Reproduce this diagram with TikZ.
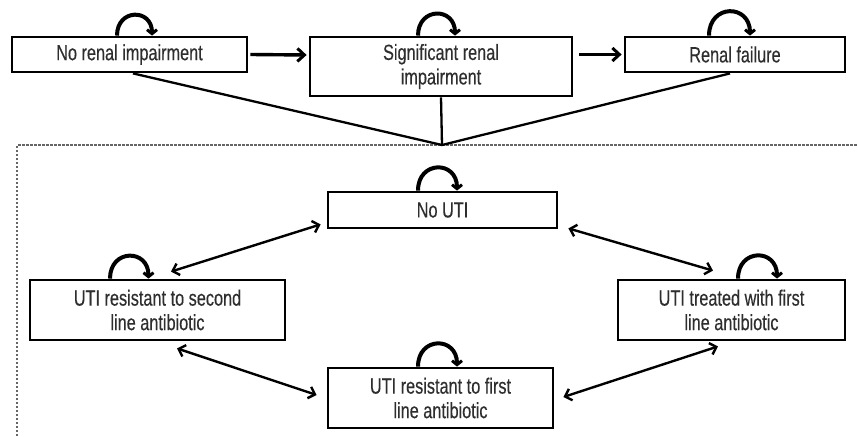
\documentclass[tikz,border=0pt]{standalone}
\usepackage{fontspec}
\setmainfont[FakeStretch=0.74,FakeBold=0.3]{Liberation Sans}
\usetikzlibrary{arrows.meta,calc}

\tikzset{
  state/.style={draw=black, line width=2.8pt, fill=white, align=center,
    inner sep=0pt, text=black!82,
    font=\fontsize{22pt}{24.5pt}\selectfont},
  flow/.style={line width=3.4pt, -{Straight Barb[length=7pt,width=13pt,line width=3pt]}},
  merge/.style={line width=2.3pt},
  swap/.style={line width=2.4pt,
    {Straight Barb[length=6pt,width=12pt,line width=2.4pt]}-{Straight Barb[length=6pt,width=12pt,line width=2.4pt]}},
  selfloop/.style={line width=4pt, out=90, in=90, looseness=2.0,
    -{Straight Barb[length=4pt,width=10pt,line width=3pt]}},
  frame/.style={draw=black!60, line width=1.1pt, dash pattern=on 2.5pt off 1.5pt}
}

\begin{document}
\begin{tikzpicture}[x=1pt,y=-1pt]
\useasboundingbox (0,0) rectangle (858,436);

% renal states
\node[state, minimum width=235pt, minimum height=35pt] (nri) at (129.5,54.5) {No renal impairment};
\node[state, minimum width=262pt, minimum height=59pt] (sri) at (441,66.5) {Significant renal\\impairment};
\node[state, minimum width=220pt, minimum height=35pt] (rf) at (735,54.5) {Renal failure};

% UTI states
\node[state, minimum width=229pt, minimum height=36pt] (nouti) at (442.5,210) {No UTI};
\node[state, minimum width=255pt, minimum height=60pt] (res2) at (157.5,310) {UTI resistant to second\\line antibiotic};
\node[state, minimum width=227pt, minimum height=60pt] (trt1) at (731.5,310) {UTI treated with first\\line antibiotic};
\node[state, minimum width=225pt, minimum height=60pt] (res1) at (440.5,398) {UTI resistant to first\\line antibiotic};

% dashed frame round the UTI sub-model
\coordinate (join) at (442,145);
\draw[frame] (17,436) -- (17,145) -- (858,145);

% renal progression
\draw[flow] ($(nri.east)+(2,0)$) -- ($(sri.west)+(-2,-11.5)$);
\draw[flow] ($(sri.east)+(6,-12)$) -- ($(rf.west)+(-2,0)$);

% every renal state carries the UTI sub-model
\draw[merge] ($(nri.south)+(3.5,0)$) -- (join);
\draw[merge] (sri.south) -- (join);
\draw[merge] ($(rf.south)+(-5,0)$) -- (join);

% self transitions
\draw[selfloop] ($(nri.north)+(-12.5,0)$) to ($(nri.north)+(22.5,0)$);
\draw[selfloop] ($(sri.north)+(-23,0)$) to ($(sri.north)+(14,0)$);
\draw[selfloop] ($(rf.north)+(-26,0)$) to ($(rf.north)+(15,0)$);
\draw[selfloop] ($(nouti.north)+(-24.5,0)$) to ($(nouti.north)+(14.5,0)$);
\draw[selfloop] ($(res2.north)+(-47.5,0)$) to ($(res2.north)+(-9,0)$);
\draw[selfloop] ($(trt1.north)+(6.5,0)$) to ($(trt1.north)+(45.5,0)$);
\draw[selfloop] ($(res1.north)+(-22.5,0)$) to ($(res1.north)+(16.5,0)$);

% UTI transitions
\draw[swap] ($(nouti.south west)+(-6,-5)$) -- ($(res2.north)+(13.5,-7)$);
\draw[swap] ($(nouti.south east)+(10,-1)$) -- ($(trt1.north)+(-18.5,-8)$);
\draw[swap] ($(res2.south)+(19.5,7)$) -- ($(res1.west)+(-10,-3)$);
\draw[swap] ($(res1.east)+(9,-1)$) -- ($(trt1.south)+(-13.5,5)$);
\end{tikzpicture}
\end{document}
